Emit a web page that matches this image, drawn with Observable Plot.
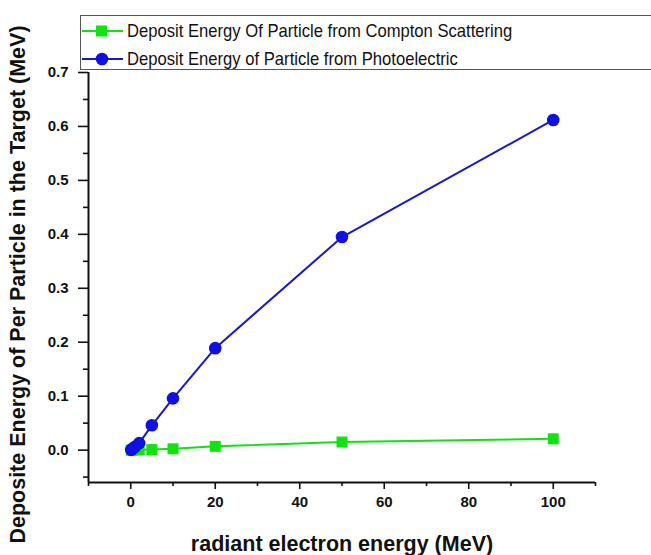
<!DOCTYPE html>
<html>
<head>
<meta charset="utf-8">
<script src="https://cdn.jsdelivr.net/npm/d3@7"></script>
<script src="https://cdn.jsdelivr.net/npm/@observablehq/plot@0.6"></script>
<style>
  html, body { margin: 0; padding: 0; background: #fff; overflow: hidden; }
  #wrap { position: relative; width: 651px; height: 555px; }
  #legend {
    position: absolute; left: 80px; top: 15px; width: 600px; height: 55px;
    border: 1px solid #555; background: #fff; box-sizing: border-box;
    font-family: "Liberation Sans", Arial, sans-serif;
    font-size: 19px; color: #111;
  }
  #legend .row { position: absolute; left: 0; height: 28px; display: flex; align-items: center; white-space: nowrap; }
  #legend .row span { display: inline-block; transform: scaleX(0.875); transform-origin: left center; }
  #legend svg { display: block; }
</style>
</head>
<body>
<div id="wrap"></div>
<script>
// Radiant electron energy (MeV)
const energy = [0.1, 0.5, 1, 2, 5, 10, 20, 50, 100];
// Deposit energy per particle (MeV)
const comptonDeposit = [0.0, 0.0, 0.0005, 0.0008, 0.001, 0.0025, 0.007, 0.015, 0.021];
const photoDeposit = [0.0005, 0.003, 0.006, 0.013, 0.046, 0.096, 0.189, 0.395, 0.612];

const seriesNames = [
  "Deposit Energy Of Particle from Compton Scattering",
  "Deposit Energy of Particle from Photoelectric"
];
const seriesColors = ["#11e311", "#1010e0"];
const lineColors = ["#14e014", "#1818c8"];

const xMajor = [0, 20, 40, 60, 80, 100];
const xMinor = [-10, 10, 30, 50, 70, 90, 110];
const yMajor = [0, 0.1, 0.2, 0.3, 0.4, 0.5, 0.6, 0.7];
const yMinor = [-0.05, 0.05, 0.15, 0.25, 0.35, 0.45, 0.55, 0.65];

const compton = energy.map((e, i) => ({x: e, y: comptonDeposit[i]}));
const photo = energy.map((e, i) => ({x: e, y: photoDeposit[i]}));

const font = "'Liberation Sans', Arial, sans-serif";

const chart = Plot.plot({
  width: 651,
  height: 555,
  marginLeft: 88,
  marginRight: 56,
  marginTop: 72,
  marginBottom: 73,
  style: {fontFamily: font, fontSize: "15px", fontWeight: "bold", color: "#111", background: "#fff", overflow: "visible"},
  x: {domain: [-10, 110]},
  y: {domain: [-0.06, 0.7]},
  marks: [
    Plot.axisX({ticks: xMajor, tickSize: 7, tickPadding: 7, strokeWidth: 1.6, label: null, fontSize: 15, fontWeight: "bold"}),
    Plot.axisX({ticks: xMinor, tickSize: 4, strokeWidth: 1.6, tickFormat: () => "", label: null}),
    Plot.axisY({ticks: yMajor, tickSize: 10, tickPadding: 10, strokeWidth: 1.6, tickFormat: d3.format(".1f"), label: null, fontSize: 15, fontWeight: "bold"}),
    Plot.axisY({ticks: yMinor, tickSize: 5, strokeWidth: 1.6, tickFormat: () => "", label: null}),
    Plot.ruleX([-10], {y1: -0.06, y2: 0.7, stroke: "#111", strokeWidth: 2}),
    Plot.ruleY([-0.06], {x1: -10, x2: 110, stroke: "#111", strokeWidth: 2}),
    Plot.text(["Deposite Energy of Per Particle in the Target (MeV)"], {
      frameAnchor: "left", textAnchor: "middle", dx: -70, dy: 7, rotate: -90,
      fontSize: 21.5, fontWeight: "bold", fill: "#111"
    }),
    Plot.text(["radiant electron energy (MeV)"], {
      frameAnchor: "bottom", dy: 68, fontSize: 21.5, fontWeight: "bold", fill: "#111"
    }),
    Plot.line(compton, {x: "x", y: "y", stroke: lineColors[0], strokeWidth: 2}),
    Plot.dot(compton, {x: "x", y: "y", symbol: "square", r: 6.2, fill: seriesColors[0], stroke: "none"}),
    Plot.line(photo, {x: "x", y: "y", stroke: lineColors[1], strokeWidth: 2}),
    Plot.dot(photo, {x: "x", y: "y", symbol: "circle", r: 6.3, fill: seriesColors[1], stroke: "none"})
  ]
});

const wrap = document.getElementById("wrap");
wrap.appendChild(chart);

// Legend box drawn over the top of the chart
const legend = document.createElement("div");
legend.id = "legend";
seriesNames.forEach((name, i) => {
  const row = document.createElement("div");
  row.className = "row";
  row.style.top = (i === 0 ? 1 : 29) + "px";
  const sym = i === 0
    ? `<rect x="15" y="8.5" width="11" height="11" fill="${seriesColors[0]}"/>`
    : `<circle cx="21" cy="14" r="6.3" fill="${seriesColors[1]}"/>`;
  row.innerHTML =
    `<svg width="46" height="28"><line x1="1" x2="42" y1="14" y2="14" stroke="${lineColors[i]}" stroke-width="2"/>${sym}</svg>` +
    `<span>${name}</span>`;
  legend.appendChild(row);
});
wrap.appendChild(legend);
</script>
</body>
</html>
